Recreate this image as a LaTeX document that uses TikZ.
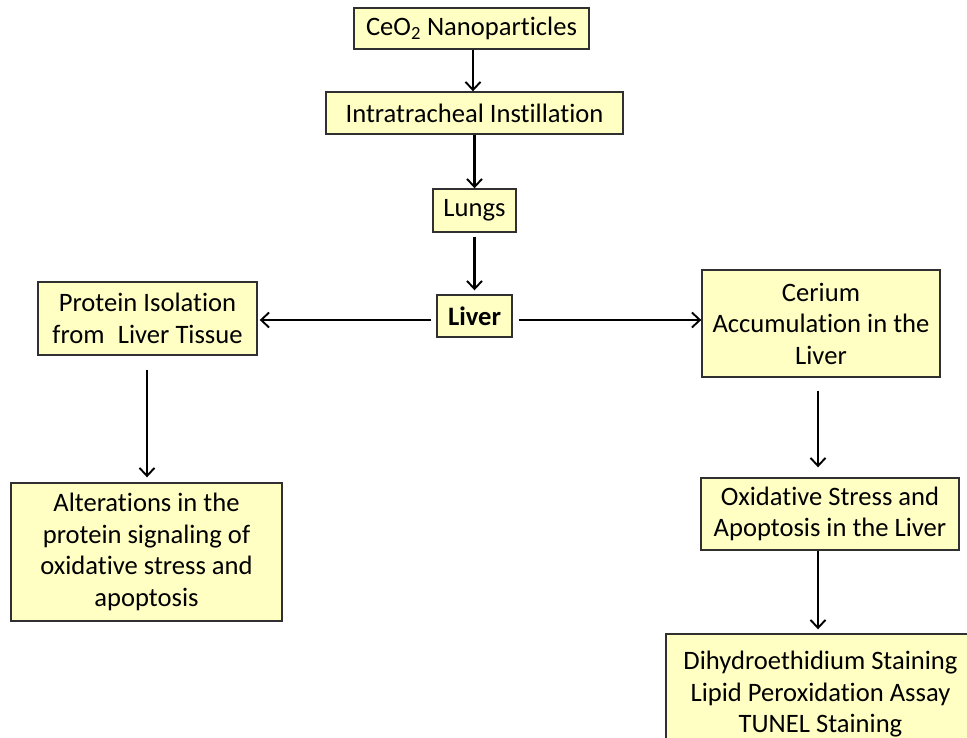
\documentclass[tikz,border=0pt]{standalone}
\usepackage{fontspec}
\setmainfont[Ligatures=NoCommon]{Carlito}
\usetikzlibrary{arrows.meta}
\definecolor{boxfill}{HTML}{FFFFC4}
\definecolor{boxline}{HTML}{303030}
\begin{document}
\begin{tikzpicture}[x=1pt,y=-1pt,
  box/.style={draw=boxline,line width=1.4pt,fill=boxfill,inner sep=0pt,align=center,
    font=\fontsize{26.6}{31.5}\selectfont},
  conn/.style={line width=2.1pt,-{Straight Barb[length=8pt,width=15pt,line width=1.9pt]}}]
\useasboundingbox (0,0) rectangle (967,738);
\clip (0,0) rectangle (967,738);
\node[box,minimum width=235pt,minimum height=41pt] (ceo) at (471.5,28.5) {CeO\textsubscript{2} Nanoparticles};
\node[box,minimum width=297pt,minimum height=42pt] (intra) at (474.5,113) {Intratracheal Instillation};
\node[box,minimum width=83pt,minimum height=43pt] (lungs) at (474.5,210.5) {Lungs};
\node[box,minimum width=75pt,minimum height=42pt] (liver) at (474.5,316) {\textbf{Liver}};
\node[box,minimum width=219pt,minimum height=73pt] (prot) at (147.5,318.5) {Protein Isolation\\from\hspace{0.5em}Liver Tissue};
\node[box,minimum width=238pt,minimum height=107pt] (cer) at (821,323.5) {Cerium\\Accumulation in the\\Liver};
\node[box,minimum width=271pt,minimum height=138pt] (alt) at (146.5,552) {Alterations in the\\protein signaling of\\oxidative stress and\\apoptosis};
\node[box,minimum width=258pt,minimum height=72pt] (ox) at (830,514) {Oxidative Stress and\\Apoptosis in the Liver};
\node[box,minimum width=309pt,minimum height=121pt] (dih) at (820.5,694.5) {Dihydroethidium Staining\\Lipid Peroxidation Assay\\TUNEL Staining};
\draw[conn] ([xshift=1.5pt]ceo.south) -- ([xshift=-1.5pt]intra.north);
\draw[conn] (intra.south) -- (lungs.north);
\draw[conn,shorten <=4pt,shorten >=4pt] (lungs.south) -- (liver.north);
\draw[conn,shorten <=5pt,shorten >=2pt] ([yshift=-4pt]liver.west) -- ([yshift=-1.5pt]prot.east);
\draw[conn,shorten <=6pt,shorten >=0pt] ([yshift=-4pt]liver.east) -- ([yshift=3.5pt]cer.west);
\draw[conn,shorten <=14pt,shorten >=5pt] ([xshift=-0.5pt]prot.south) -- ([xshift=0.5pt]alt.north);
\draw[conn,shorten <=13pt,shorten >=10pt] ([xshift=-3pt]cer.south) -- ([xshift=-12pt]ox.north);
\draw[conn,shorten >=4pt] ([xshift=-12pt]ox.south) -- ([xshift=-2.5pt]dih.north);
\end{tikzpicture}
\end{document}
